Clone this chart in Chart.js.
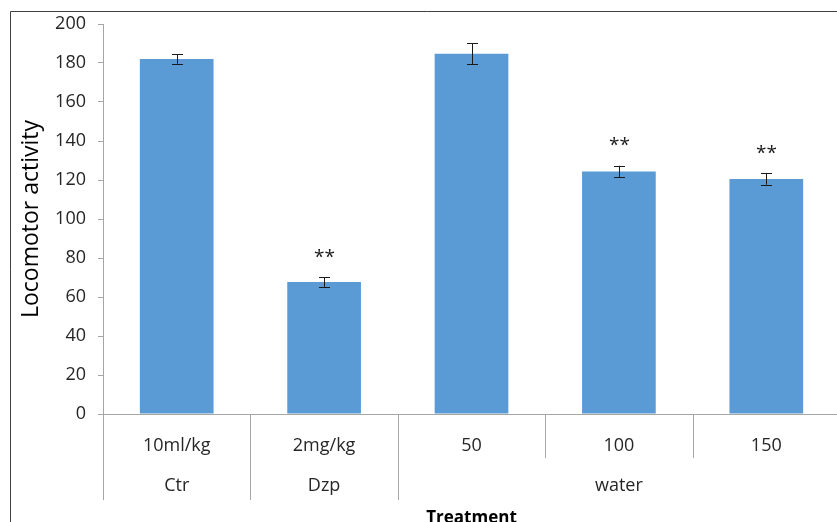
<!DOCTYPE html>
<html lang="en">
<head>
  <meta charset="UTF-8" />
  <title>Locomotor activity</title>
  <script src="https://cdn.jsdelivr.net/npm/chart.js"></script>
  <style>
    html, body {
      margin: 0;
      padding: 0;
      background: #fff;
      overflow: hidden;
    }
    #wrap {
      width: 837px;
      height: 522px;
      overflow: hidden;
    }
  </style>
</head>
<body>
  <div id="wrap">
    <canvas id="locoChart" width="845" height="528"></canvas>
  </div>

  <script>
    // data
    const doses = ['10ml/kg', '2mg/kg', '50', '100', '150'];
    const groupNames = ['Ctr', 'Dzp', 'water'];
    const groupSpans = [1, 1, 3];          // how many dose columns each group covers
    const means = [182, 67.7, 184.8, 124.3, 120.5];
    const errors = [2.4, 2.5, 5.3, 3.0, 2.9];
    const marks = ['', '**', '', '**', '**'];
    const yTicks = [0, 20, 40, 60, 80, 100, 120, 140, 160, 180, 200];

    const FONT = '"Open Sans", "Noto Sans", sans-serif';
    const GRAY = '#a6a6a6';

    // error bars, significance stars, group row, dividers and frame
    const extras = {
      id: 'extras',
      afterDatasetsDraw(chart) {
        const ctx = chart.ctx;
        const x = chart.scales.x;
        const y = chart.scales.y;
        ctx.save();

        ctx.strokeStyle = '#1a1a1a';
        ctx.lineWidth = 1;
        means.forEach((m, i) => {
          const px = Math.round(x.getPixelForValue(i)) + 0.5;
          const top = y.getPixelForValue(m + errors[i]);
          const bot = y.getPixelForValue(m - errors[i]);
          ctx.beginPath();
          ctx.moveTo(px, top);
          ctx.lineTo(px, bot);
          ctx.moveTo(px - 5.5, Math.round(top) + 0.5);
          ctx.lineTo(px + 5.5, Math.round(top) + 0.5);
          ctx.moveTo(px - 5.5, Math.round(bot) + 0.5);
          ctx.lineTo(px + 5.5, Math.round(bot) + 0.5);
          ctx.stroke();

          if (marks[i]) {
            ctx.fillStyle = '#1a1a1a';
            ctx.font = '19px ' + FONT;
            ctx.textAlign = 'center';
            ctx.textBaseline = 'middle';
            ctx.fillText(marks[i], px, top - 20);
          }
        });
        ctx.restore();
      },
      afterDraw(chart) {
        const ctx = chart.ctx;
        const x = chart.scales.x;
        const axisY = chart.chartArea.bottom;
        const half = (x.getPixelForValue(1) - x.getPixelForValue(0)) / 2;
        ctx.save();

        // dividers between dose columns / groups
        ctx.strokeStyle = GRAY;
        ctx.lineWidth = 1;
        const groupEdges = [0];
        groupSpans.reduce((acc, n) => { groupEdges.push(acc + n); return acc + n; }, 0);
        for (let i = 0; i <= doses.length; i++) {
          const px = Math.round(x.getPixelForValue(i) - half) + 0.5;
          const long = groupEdges.includes(i);
          ctx.beginPath();
          ctx.moveTo(px, axisY);
          ctx.lineTo(px, axisY + (long ? 86 : 44));
          ctx.stroke();
        }

        // group labels row
        ctx.fillStyle = '#262626';
        ctx.font = '18px ' + FONT;
        ctx.textAlign = 'center';
        ctx.textBaseline = 'middle';
        let start = 0;
        groupNames.forEach((g, gi) => {
          const a = x.getPixelForValue(start) - half;
          const b = x.getPixelForValue(start + groupSpans[gi] - 1) + half;
          ctx.fillText(g, (a + b) / 2, axisY + 72);
          start += groupSpans[gi];
        });

        // outer frame
        ctx.strokeStyle = '#404040';
        ctx.beginPath();
        ctx.moveTo(10.5, chart.height);
        ctx.lineTo(10.5, 11.5);
        ctx.lineTo(chart.width, 11.5);
        ctx.stroke();
        ctx.restore();
      }
    };

    const chart = new Chart(document.getElementById('locoChart'), {
      type: 'bar',
      data: {
        labels: doses,
        datasets: [{
          label: 'Locomotor activity',
          data: means,
          backgroundColor: '#5b9bd5',
          barPercentage: 0.5,
          categoryPercentage: 1.0
        }]
      },
      options: {
        responsive: false,
        animation: false,
        layout: { padding: { left: 0, top: 24, right: 5, bottom: 0 } },
        plugins: {
          legend: { display: false },
          tooltip: { enabled: false }
        },
        scales: {
          x: {
            grid: { display: false },
            border: { color: GRAY },
            ticks: {
              color: '#262626',
              font: { family: FONT, size: 18 },
              padding: 13,
              maxRotation: 0
            },
            title: {
              display: true,
              text: 'Treatment',
              color: '#000',
              font: { family: FONT, size: 17, weight: 'bold' },
              padding: { top: 0, bottom: 0 }
            },
            afterFit(scale) { scale.height = 114; }
          },
          y: {
            min: 0,
            max: 200,
            afterBuildTicks(scale) { scale.ticks = yTicks.map(v => ({ value: v })); },
            grid: {
              drawOnChartArea: false,
              tickLength: 5,
              color: GRAY
            },
            border: { color: GRAY },
            ticks: {
              color: '#262626',
              font: { family: FONT, size: 18 },
              padding: 12
            },
            title: {
              display: true,
              text: 'Locomotor activity',
              color: '#000',
              font: { family: FONT, size: 23 },
              padding: { top: 18, bottom: 0 }
            },
            afterFit(scale) { scale.width = 103; }
          }
        }
      },
      plugins: [extras]
    });
  </script>
</body>
</html>
